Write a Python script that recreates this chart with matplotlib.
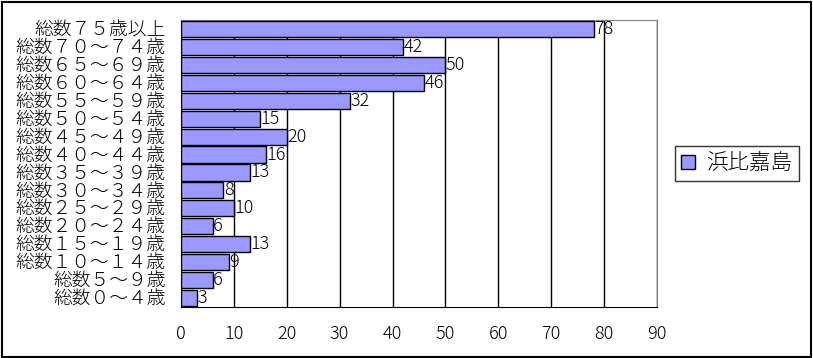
import matplotlib.pyplot as plt
from matplotlib.patches import Rectangle

plt.rcParams['font.family'] = ['Noto Sans CJK JP', 'DejaVu Sans']

# categories from bottom to top
categories = ['総数０～４歳', '総数５～９歳', '総数１０～１４歳', '総数１５～１９歳',
              '総数２０～２４歳', '総数２５～２９歳', '総数３０～３４歳', '総数３５～３９歳',
              '総数４０～４４歳', '総数４５～４９歳', '総数５０～５４歳', '総数５５～５９歳',
              '総数６０～６４歳', '総数６５～６９歳', '総数７０～７４歳', '総数７５歳以上']
values = [3, 6, 9, 13, 6, 10, 8, 13, 16, 20, 15, 32, 46, 50, 42, 78]
series_name = '浜比嘉島'
xticks = [0, 10, 20, 30, 40, 50, 60, 70, 80, 90]

fig = plt.figure(figsize=(8.13, 3.58), dpi=100)
ax = fig.add_axes([0.2226, 0.1425, 0.5855, 0.8017])

ypos = list(range(len(categories)))
ax.barh(ypos, values, height=0.9, color='#9999FF', edgecolor='black',
        linewidth=1, zorder=3, label=series_name)
for y, v in zip(ypos, values):
    ax.text(v + 0.1, y, str(v), va='center', ha='left', fontsize=13,
            fontweight='light', zorder=4)

ax.set_xlim(0, 90)
ax.set_ylim(-0.5, len(categories) - 0.5)
ax.set_xticks(xticks)
ax.set_yticks(ypos)
ax.set_yticklabels(categories, fontsize=13.5, fontweight='light')
ax.tick_params(axis='x', length=0, pad=13, labelsize=13)
ax.tick_params(axis='y', length=0, pad=11)
for lbl in ax.get_xticklabels():
    lbl.set_fontweight('light')
ax.grid(axis='x', color='black', linewidth=1, zorder=1)
ax.set_axisbelow(True)

ax.spines['top'].set_color('#808080')
ax.spines['right'].set_color('#808080')
ax.spines['left'].set_color('black')
ax.spines['bottom'].set_color('black')

leg = ax.legend(loc='center left', bbox_to_anchor=(1.015, 0.5),
                prop={'size': 15.5, 'weight': 'light'},
                frameon=True, fancybox=False, edgecolor='black',
                handlelength=0.65, handleheight=0.65, handletextpad=0.5,
                borderpad=0.3)
leg.get_frame().set_linewidth(1)

# outer border
fig.patches.append(Rectangle((0.003, 0.004), 0.994, 0.99, transform=fig.transFigure,
                             fill=False, edgecolor='black', linewidth=1.5))

plt.savefig('out.png', dpi=100)
